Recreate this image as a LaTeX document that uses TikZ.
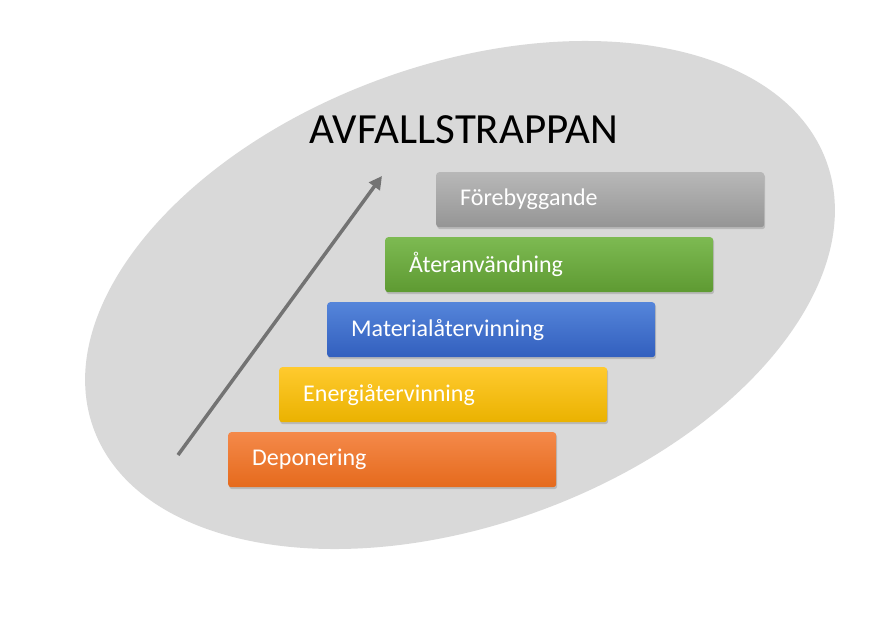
\documentclass[tikz,border=0pt]{standalone}
\usepackage{fontspec}
\setmainfont{Carlito}
\usetikzlibrary{shadows,arrows.meta}
\definecolor{orT}{HTML}{F4894A}\definecolor{orB}{HTML}{E56A1C}
\definecolor{yeT}{HTML}{FFCA2E}\definecolor{yeB}{HTML}{EAB200}
\definecolor{blT}{HTML}{5585DA}\definecolor{blB}{HTML}{325FBE}
\definecolor{grT}{HTML}{7DBA52}\definecolor{grB}{HTML}{5E9A32}
\definecolor{gyT}{HTML}{B8B8B8}\definecolor{gyB}{HTML}{959595}
\begin{document}
\begin{tikzpicture}[x=1pt,y=-1pt,
  stair/.style={rounded corners=3pt,draw=none,minimum width=314pt,minimum height=55pt,
    anchor=north west,text=white,font=\fontsize{24}{28}\selectfont,align=left,
    text width=280pt,inner xsep=24pt,drop shadow={shadow xshift=1pt,shadow yshift=-2pt,opacity=0.35}}]
\useasboundingbox (0,0) rectangle (883,616);
\fill[white] (0,0) rectangle (883,616);
\fill[gray!30,rotate around={20:(460,295)}] (460,295) ellipse [x radius=390, y radius=230];
\node (title) at (464,130) {\fontsize{43}{48}\selectfont AVFALLSTRAPPAN};
\node[stair,top color=orT,bottom color=orB] (dep) at (228,432) {Deponering};
\node[stair,top color=yeT,bottom color=yeB] (ene) at (279,367) {Energiåtervinning};
\node[stair,top color=blT,bottom color=blB] (mat) at (327,302) {Materialåtervinning};
\node[stair,top color=grT,bottom color=grB] (ate) at (385,237) {Återanvändning};
\node[stair,top color=gyT,bottom color=gyB] (for) at (436,172) {Förebyggande};
\coordinate (a0) at (178,455);
\coordinate (a1) at (382,176);
\draw[line width=3.5pt,gray!90!black,-{Triangle[length=13pt,width=13pt]}] (a0) -- (a1);
\end{tikzpicture}
\end{document}
